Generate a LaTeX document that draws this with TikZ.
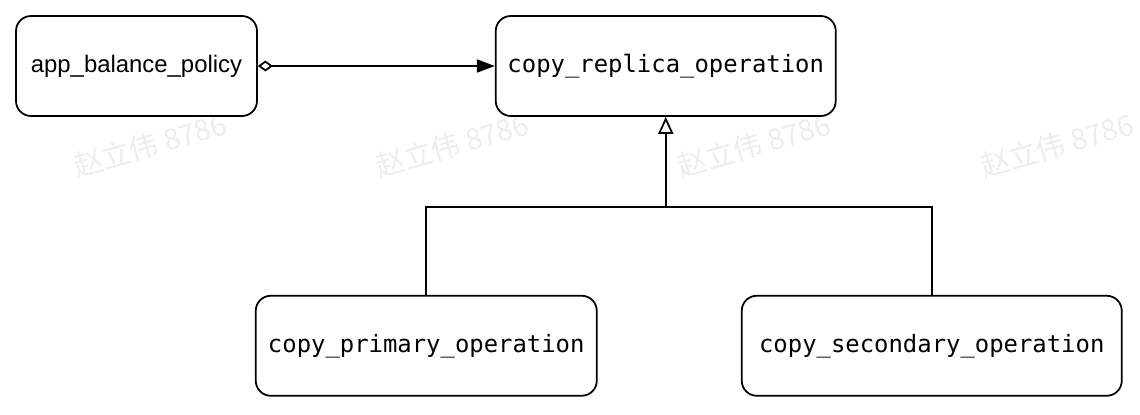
\documentclass[tikz,border=0pt]{standalone}
\usepackage{fontspec}
\setmainfont{Liberation Sans}
\setmonofont{DejaVu Sans Mono}
\newfontfamily\cjk{Noto Sans CJK SC}
\usepackage{tikz}
\usetikzlibrary{positioning,calc,arrows.meta}

\begin{document}
\begin{tikzpicture}[
    class/.style={rectangle, draw=black, line width=1pt, minimum height=2cm, text centered, rounded corners=0.3cm, font=\fontsize{13.6}{16}\selectfont},
    code/.style={class, font=\ttfamily\fontsize{13.6}{16}\selectfont},
    stamp/.style={text=black!7, rotate=16, font=\cjk\fontsize{16.5}{19}\selectfont},
    aggr/.style={line width=1pt, {Diamond[open, length=0.3cm, width=0.22cm]}-{Triangle[length=0.36cm, width=0.26cm]}},
    inherit/.style={line width=1pt, -{Triangle[open, length=0.34cm, width=0.3cm]}},
    link/.style={line width=1pt}
]
    \useasboundingbox (0,0) rectangle (22.8,-8.28);
    % watermark
    \foreach \wx [count=\i] in {3.0, 9.04, 15.08, 21.14}
        \node[stamp] (wm\i) at (\wx,-2.9) {赵立伟 8786};

    \node[class, minimum width=4.82cm] (policy) at (2.73,-1.32) {app\_balance\_policy};
    \node[code, minimum width=6.8cm, right=4.74cm of policy] (replica) {copy\_replica\_operation};
    \node[code, minimum width=6.82cm, below=3.56cm of replica, xshift=-4.79cm] (primary) {copy\_primary\_operation};
    \node[code, minimum width=7.6cm, below=3.56cm of replica, xshift=5.32cm] (secondary) {copy\_secondary\_operation};
    \coordinate (joint) at ($(replica.south)+(0,-1.8)$);

    \draw[aggr] (policy) -- (replica);
    \draw[link] (primary) |- (joint) -| (secondary);
    \draw[inherit] (joint) -- (replica);
\end{tikzpicture}
\end{document}
